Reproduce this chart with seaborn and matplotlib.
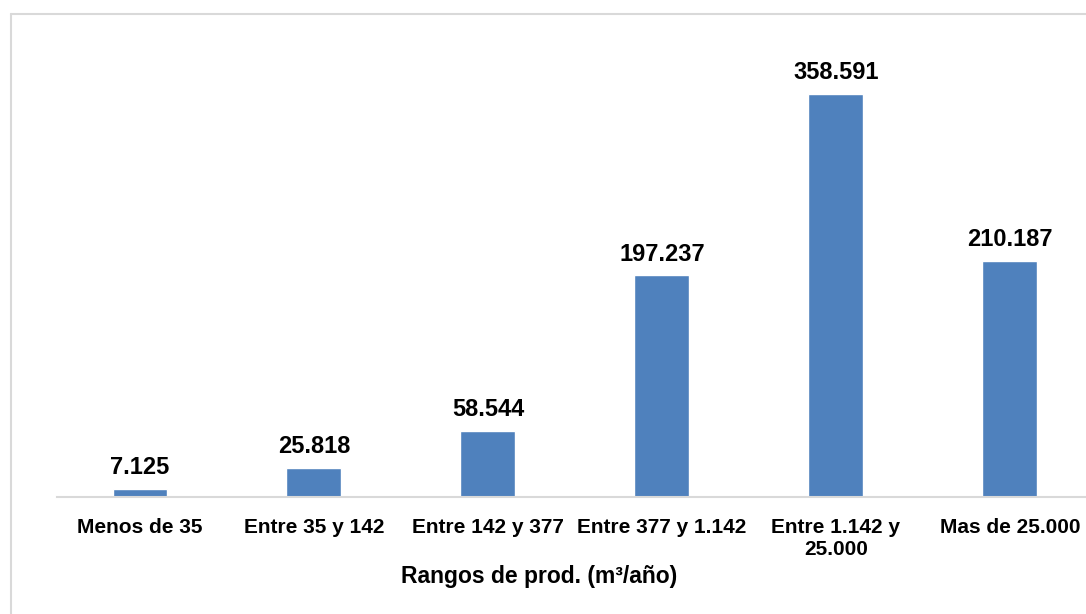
import matplotlib
matplotlib.use("Agg")
import matplotlib.pyplot as plt
import seaborn as sns
import pandas as pd
from matplotlib.lines import Line2D

categories = ["Menos de 35", "Entre 35 y 142", "Entre 142 y 377", "Entre 377 y 1.142",
              "Entre 1.142 y\n25.000", "Mas de 25.000"]
values = [7125, 25818, 58544, 197237, 358591, 210187]
value_labels = ["7.125", "25.818", "58.544", "197.237", "358.591", "210.187"]
x_title = "Rangos de prod. (m³/año)"

sns.set_theme(style="white")
plt.rcParams['font.family'] = ['Liberation Sans', 'DejaVu Sans']
plt.rcParams['text.color'] = 'black'
plt.rcParams['xtick.color'] = 'black'

W, H = 1086, 614
fig = plt.figure(figsize=(W / 100, H / 100), dpi=100)
left, right, bottom, top = 57, 1086, 497, 40
ax = fig.add_axes([left / W, 1 - bottom / H, (right - left) / W, (bottom - top) / H])

df = pd.DataFrame({"cat": categories, "val": values})
sns.barplot(data=df, x="cat", y="val", color="#4F81BD", saturation=1, width=0.316, ax=ax)

ax.set_xlim(-0.477, 5.437)
ax.set_ylim(0, 406640)
ax.bar_label(ax.containers[0], labels=value_labels, padding=7,
             fontsize=17, fontweight="bold", color="black")

for s in ["top", "right", "left"]:
    ax.spines[s].set_visible(False)
ax.spines["bottom"].set_color("#D9D9D9")
ax.spines["bottom"].set_linewidth(1.5)
ax.set_yticks([])
ax.set_ylabel("")
ax.set_xlabel("")
ax.tick_params(axis="x", length=0, pad=15, labelsize=15, labelcolor="black")
for t in ax.get_xticklabels():
    t.set_fontweight("bold")
    t.set_linespacing(1.2)
    t.set_verticalalignment("top")

fig.text(539 / W, 1 - 576 / H, x_title, ha="center", va="center",
         fontsize=16.5, fontweight="bold", color="black")

# outer chart border (cropped at right and bottom)
bc = "#D9D9D9"
fig.add_artist(Line2D([10.5 / W, 1.0], [1 - 13.5 / H] * 2, color=bc, lw=1.5, transform=fig.transFigure))
fig.add_artist(Line2D([10.5 / W] * 2, [0, 1 - 13.5 / H], color=bc, lw=1.5, transform=fig.transFigure))

fig.savefig("out.png", dpi=100, facecolor="white")
